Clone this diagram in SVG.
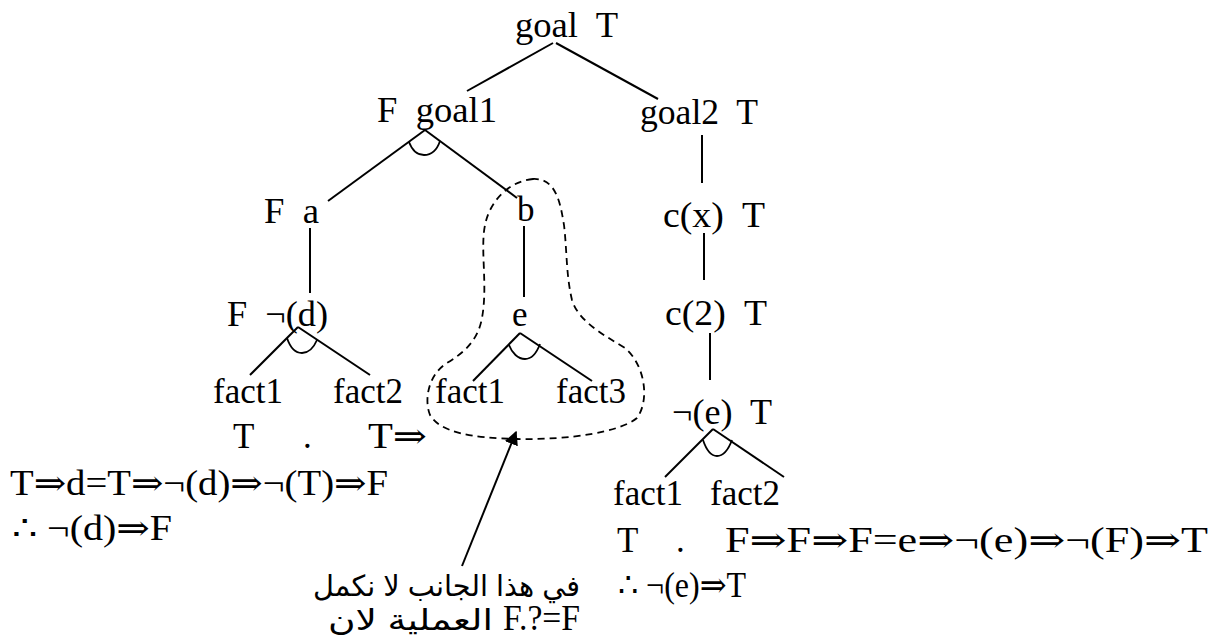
<svg xmlns="http://www.w3.org/2000/svg" width="1214" height="636" viewBox="0 0 1214 636">
<defs>
<style>
.t{font-family:"Liberation Serif","DejaVu Serif",serif;font-size:35px;fill:#000;white-space:pre}
.ar{font-family:"Liberation Sans","DejaVu Sans",sans-serif;font-size:29px;fill:#000;white-space:pre}
.ln{stroke:#000;stroke-width:2;fill:none}
.and{stroke:#000;stroke-width:1.8;fill:none}
.dash{stroke:#000;stroke-width:1.8;fill:none;stroke-dasharray:7 5}
</style>
<marker id="ah" viewBox="0 0 10 10" refX="9" refY="5" markerWidth="7" markerHeight="7" orient="auto">
<path d="M0,0 L10,5 L0,10 Z" fill="#000"/>
</marker>
</defs>
<rect width="1214" height="636" fill="#fff"/>

<g id="connectors">
<line class="ln" x1="553" y1="43" x2="467" y2="91"/>
<line class="ln" x1="556" y1="43" x2="658" y2="99"/>
<line class="ln" x1="425" y1="130" x2="328" y2="201"/>
<line class="ln" x1="425" y1="130" x2="517" y2="198"/>
<path class="and" d="M409,142 C412,150 417,155 424,155 C431,155 437,150 440,141"/>
<line class="ln" x1="310" y1="228" x2="310" y2="293"/>
<line class="ln" x1="524" y1="226" x2="524" y2="297"/>
<line class="ln" x1="702" y1="135" x2="702" y2="183"/>
<line class="ln" x1="704" y1="233" x2="704" y2="280"/>
<line class="ln" x1="710" y1="333" x2="710" y2="380"/>
<line class="ln" x1="298" y1="327" x2="250" y2="375"/>
<line class="ln" x1="298" y1="327" x2="370" y2="375"/>
<path class="and" d="M287,338 C290,347 295,353 302,353 C309,353 314,347 317,340"/>
<line class="ln" x1="520" y1="333" x2="473" y2="381"/>
<line class="ln" x1="520" y1="333" x2="592" y2="381"/>
<path class="and" d="M509,345 C512,353 518,359 525,359 C532,359 537,352 540,344"/>
<line class="ln" x1="713" y1="429" x2="665" y2="477"/>
<line class="ln" x1="713" y1="429" x2="784" y2="477"/>
<path class="and" d="M703,440 C706,449 711,456 717,456 C724,456 729,448 732,440"/>
<path class="dash" d="M533,179 C510,181 490,200 485,225 C480,250 488,285 482,318 C478,340 465,352 447,363 C428,375 424,400 430,415 C440,432 470,438 517,439 C570,440 620,432 637,418 C650,400 645,365 625,348 C600,333 578,320 572,300 C566,275 567,250 564,225 C560,200 555,178 533,179 Z"/>
<line class="ln" x1="462" y1="566" x2="516" y2="432" marker-end="url(#ah)"/>
</g>

<g id="goal"><text class="t" x="515" y="37" font-size="30" textLength="103" lengthAdjust="spacingAndGlyphs">goal  T</text></g>
<g id="goal1"><text class="t" x="377" y="122" font-size="33" textLength="120" lengthAdjust="spacingAndGlyphs">F  goal1</text></g>
<g id="goal2"><text class="t" x="640" y="124" font-size="34" textLength="118" lengthAdjust="spacingAndGlyphs">goal2  T</text></g>
<g id="a"><text class="t" x="264" y="223" font-size="34" textLength="55" lengthAdjust="spacingAndGlyphs">F  a</text></g>
<g id="b"><text class="t" x="517" y="221" font-size="34">b</text></g>
<g id="cx"><text class="t" x="663" y="227" textLength="102" lengthAdjust="spacingAndGlyphs">c(x)  T</text></g>
<g id="notd"><text class="t" x="227" y="326" textLength="101" lengthAdjust="spacingAndGlyphs">F  ¬(d)</text></g>
<g id="e"><text class="t" x="512" y="326">e</text></g>
<g id="c2"><text class="t" x="665" y="325" textLength="102" lengthAdjust="spacingAndGlyphs">c(2)  T</text></g>
<g id="left-facts">
<text class="t" x="213" y="403">fact1</text>
<text class="t" x="333" y="403">fact2</text>
</g>
<g id="mid-facts">
<text class="t" x="435" y="403">fact1</text>
<text class="t" x="556" y="403">fact3</text>
</g>
<g id="note"><text class="t" x="672" y="424" font-size="34" textLength="100" lengthAdjust="spacingAndGlyphs">¬(e)  T</text></g>
<g id="right-facts">
<text class="t" x="613" y="505">fact1</text>
<text class="t" x="710" y="505">fact2</text>
</g>
<g id="left-calc">
<text class="t" x="233" y="448">T</text>
<text class="t" x="303" y="448">.</text>
<text class="t" x="368" y="448" textLength="59" lengthAdjust="spacingAndGlyphs">T⇒</text>
<text class="t" x="10" y="495" font-size="36" textLength="378" lengthAdjust="spacingAndGlyphs">T⇒d=T⇒¬(d)⇒¬(T)⇒F</text>
<text class="t" x="12" y="540" font-size="36" textLength="160" lengthAdjust="spacingAndGlyphs">∴ ¬(d)⇒F</text>
</g>
<g id="right-calc">
<text class="t" x="617" y="552">T</text>
<text class="t" x="676" y="552">.</text>
<text class="t" x="725" y="552" textLength="483" lengthAdjust="spacingAndGlyphs">F⇒F⇒F=e⇒¬(e)⇒¬(F)⇒T</text>
<text class="t" x="618" y="597" font-size="34" textLength="128" lengthAdjust="spacingAndGlyphs">∴ ¬(e)⇒T</text>
</g>
<g id="arabic-note">
<text class="ar" x="313" y="596" textLength="267" lengthAdjust="spacingAndGlyphs">في هذا الجانب لا نكمل</text>
<text class="ar" x="328" y="630" textLength="165" lengthAdjust="spacingAndGlyphs">العملية لان</text>
<text class="t" x="503" y="630" font-size="32" textLength="77" lengthAdjust="spacingAndGlyphs">F.?=F</text>
</g>
</svg>
